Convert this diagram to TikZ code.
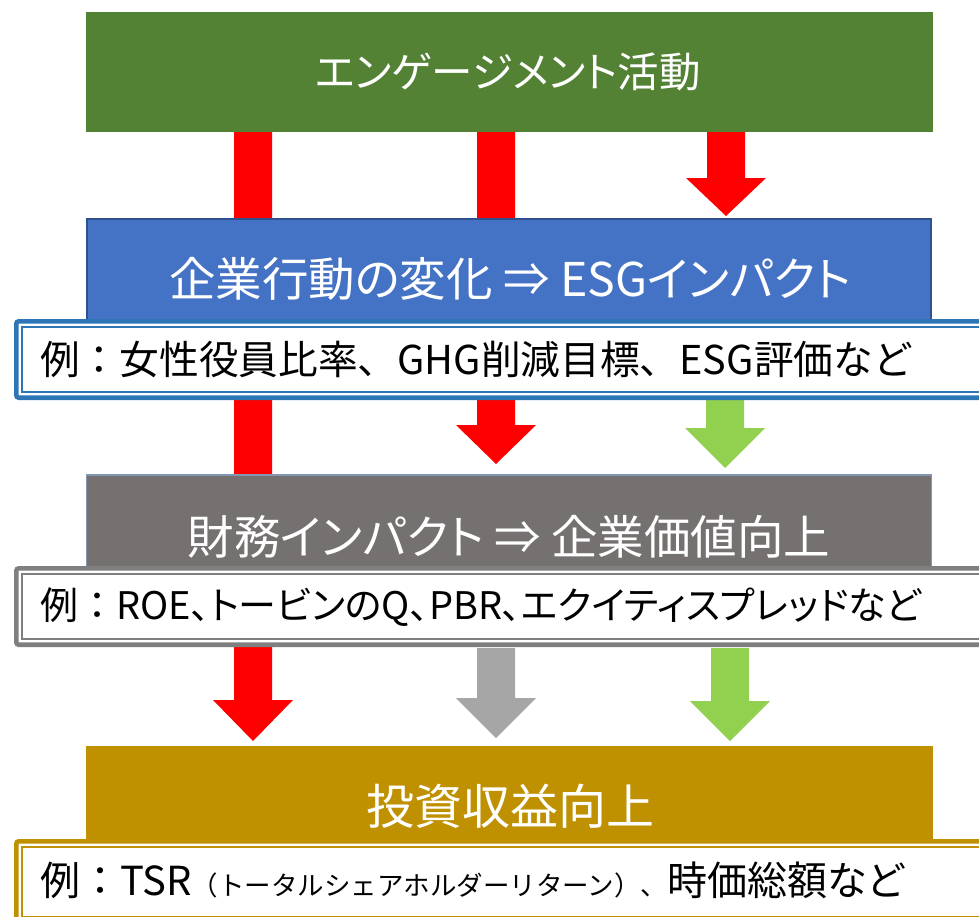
\documentclass[tikz,border=0pt]{standalone}
\usepackage{fontspec}
\setmainfont{Noto Sans CJK JP}
\newfontfamily\pf{Noto Sans CJK JP}[RawFeature=+palt]
\definecolor{engreen}{HTML}{548235}
\definecolor{esgblue}{HTML}{4472C4}
\definecolor{esgblueborder}{HTML}{2F528F}
\definecolor{fingray}{HTML}{767171}
\definecolor{fingrayborder}{HTML}{8497B0}
\definecolor{invgold}{HTML}{BF9000}
\definecolor{arrred}{HTML}{FF0000}
\definecolor{arrgreen}{HTML}{92D050}
\definecolor{arrgray}{HTML}{A6A6A6}
\definecolor{exblue}{HTML}{2E75B6}
\definecolor{exgray}{HTML}{7F7F7F}
\tikzset{
  extext/.style={anchor=west, inner sep=0pt, text=black,
    font=\pf\fontsize{40}{46}\selectfont},
  titletext/.style={inner sep=0pt, text=white, font=\pf\fontsize{46}{50}\selectfont},
}
% block arrow: colour, centre x, top y, head top y, tip y
\newcommand\blockarrow[5]{%
  \fill[#1] ({#2-19},#3) -- ({#2+19},#3) -- ({#2+19},#4) -- ({#2+40},#4)
    -- (#2,#5) -- ({#2-40},#4) -- ({#2-19},#4) -- cycle;}
% example box with thick-thin frame: colour, top y, bottom y
\newcommand\exframe[3]{%
  \fill[white] (14,#2) rectangle (995,#3);
  \draw[#1, line width=4.6, rounded corners=2.5] (16.3,{#2+2.3}) rectangle (995,{#3-2.3});
  \draw[#1, line width=1.8] (21.7,{#2+7.7}) rectangle (995,{#3-7.7});}
\newcommand\rei{{\normalfont 例：}}
\begin{document}
\begin{tikzpicture}[x=1pt,y=-1pt]
\clip (0,0) rectangle (979,916);
\fill[white] (0,0) rectangle (979,916);

% arrows (behind boxes)
\blockarrow{arrred}{253}{132}{700}{741}
\blockarrow{arrred}{496}{132}{425}{464}
\blockarrow{arrred}{726}{132}{178}{216}
\blockarrow{arrgreen}{725}{400}{428}{468}
\blockarrow{arrgray}{496}{648}{698}{738}
\blockarrow{arrgreen}{730}{648}{701}{741}

% level 1
\fill[engreen] (86,12) rectangle (933,132);
\node[titletext, font=\pf\fontsize{41.5}{48}\selectfont] (t1) at (508,72) {エンゲージメント活動};

% level 2
\filldraw[fill=esgblue, draw=esgblueborder, line width=2] (87,219) rectangle (931,335);
\node[titletext, font=\pf\fontsize{46.5}{50}\selectfont] (t2) at (510,279) {企業行動の変化 ⇒ ESGインパクト};
\exframe{exblue}{319}{400}
\node[extext, font=\normalfont\fontsize{39.7}{46}\selectfont] (e2) at (40,359) {例：女性役員比率、GHG削減目標、ESG評価など};

% level 3
\filldraw[fill=fingray, draw=fingrayborder, line width=1.8] (86.5,475) rectangle (931.5,590);
\node[titletext, font=\pf\fontsize{46.5}{50}\selectfont] (t3) at (509,537) {財務インパクト ⇒ 企業価値向上};
\exframe{exgray}{566}{647}
\node[extext, font=\pf\fontsize{38}{46}\selectfont] (e3) at (40,607) {\rei ROE、トービンのQ、PBR、エクイティスプレッドなど};

% level 4
\fill[invgold] (86,746) rectangle (933,850);
\node[titletext, font=\pf\fontsize{48}{52}\selectfont] (t4) at (510,806) {投資収益向上};
\exframe{invgold}{839}{925}
\node[extext] (e4) at (40,880) {\rei TSR{\normalfont\fontsize{26.5}{32}\selectfont（トータルシェアホルダーリターン）、}時価総額など};
\end{tikzpicture}
\end{document}
